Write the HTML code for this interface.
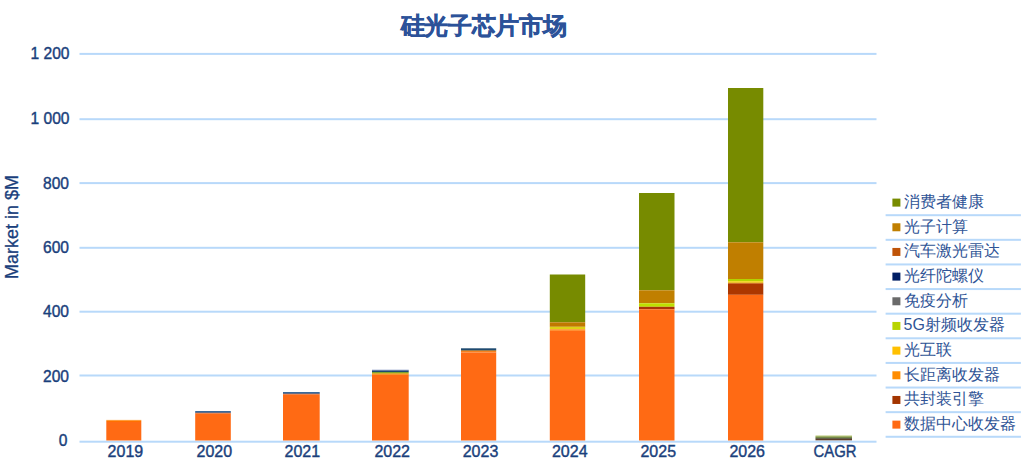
<!DOCTYPE html>
<html><head><meta charset="utf-8"><style>
html,body{margin:0;padding:0;background:#fff;}
body{width:1024px;height:470px;position:relative;overflow:hidden;font-family:"Liberation Sans",sans-serif;}
svg{position:absolute;left:0;top:0;}
.t{position:absolute;white-space:nowrap;line-height:1;}
.yl{font-size:15.6px;color:#1A3F7C;text-align:right;width:60px;-webkit-text-stroke:0.4px #1A3F7C;}
.xl{font-size:16px;color:#1A3F7C;text-align:center;width:60px;-webkit-text-stroke:0.4px #1A3F7C;}
.lg{font-size:16px;color:#2F5496;}
.title{font-size:23.6px;letter-spacing:-0.35px;font-weight:bold;color:#2C5299;-webkit-text-stroke:0.5px #2C5299;}
.ax{font-size:18px;color:#1A3F7C;-webkit-text-stroke:0.3px #1A3F7C;transform-origin:0 0;transform:rotate(-90deg);}
</style></head><body>

<svg width="1024" height="470" viewBox="0 0 1024 470"><rect x="79.5" y="52.90" width="797" height="2" fill="#B8D9FA"/><rect x="79.5" y="118.20" width="797" height="2" fill="#B8D9FA"/><rect x="79.5" y="182.10" width="797" height="2" fill="#B8D9FA"/><rect x="79.5" y="246.80" width="797" height="2" fill="#B8D9FA"/><rect x="79.5" y="310.70" width="797" height="2" fill="#B8D9FA"/><rect x="79.5" y="374.50" width="797" height="2" fill="#B8D9FA"/><rect x="79.5" y="440.70" width="797" height="2" fill="#B8D9FA"/><rect x="106.3" y="419.9" width="35.00" height="1.00" fill="#FF9A30"/><rect x="106.3" y="420.9" width="35.00" height="1.10" fill="#FF7000"/><rect x="106.3" y="422" width="35.00" height="18.50" fill="#FF6A14"/><rect x="195.2" y="411" width="35.60" height="1.30" fill="#3A6A9A"/><rect x="195.2" y="412.3" width="35.60" height="1.00" fill="#3C4060"/><rect x="195.2" y="413.3" width="35.60" height="27.20" fill="#FF6A14"/><rect x="283" y="392" width="36.70" height="1.30" fill="#3A6A9A"/><rect x="283" y="393.3" width="36.70" height="1.00" fill="#3C4060"/><rect x="283" y="394.3" width="36.70" height="46.20" fill="#FF6A14"/><rect x="372" y="369.8" width="36.70" height="0.80" fill="#4F69A8"/><rect x="372" y="370.6" width="36.70" height="1.40" fill="#1F4A70"/><rect x="372" y="372" width="36.70" height="0.90" fill="#6A9A1A"/><rect x="372" y="372.9" width="36.70" height="0.90" fill="#C0A010"/><rect x="372" y="373.8" width="36.70" height="1.00" fill="#FF8C00"/><rect x="372" y="374.8" width="36.70" height="65.70" fill="#FF6A14"/><rect x="461" y="348.3" width="35.20" height="1.70" fill="#1F4A70"/><rect x="461" y="350" width="35.20" height="0.80" fill="#6A5A30"/><rect x="461" y="350.8" width="35.20" height="1.70" fill="#F58220"/><rect x="461" y="352.5" width="35.20" height="88.00" fill="#FF6A14"/><rect x="549.8" y="274.5" width="35.40" height="47.80" fill="#778B00"/><rect x="549.8" y="322.3" width="35.40" height="4.50" fill="#C07800"/><rect x="549.8" y="326.8" width="35.40" height="2.50" fill="#DDD015"/><rect x="549.8" y="329.3" width="35.40" height="1.50" fill="#FF8410"/><rect x="549.8" y="330.8" width="35.40" height="109.70" fill="#FF6A14"/><rect x="639" y="193" width="35.50" height="97.30" fill="#778B00"/><rect x="639" y="290.3" width="35.50" height="13.00" fill="#C07F00"/><rect x="639" y="303.3" width="35.50" height="3.50" fill="#BEE000"/><rect x="639" y="306.8" width="35.50" height="2.50" fill="#AA3508"/><rect x="639" y="309.3" width="35.50" height="131.20" fill="#FF6A14"/><rect x="728" y="88" width="35.30" height="154.30" fill="#778B00"/><rect x="728" y="242.3" width="35.30" height="36.70" fill="#C07F00"/><rect x="728" y="279" width="35.30" height="2.20" fill="#B4D200"/><rect x="728" y="281.2" width="35.30" height="1.60" fill="#F0D00A"/><rect x="728" y="282.8" width="35.30" height="1.00" fill="#D06008"/><rect x="728" y="283.8" width="35.30" height="11.00" fill="#AC3700"/><rect x="728" y="294.8" width="35.30" height="145.70" fill="#FF6A14"/><rect x="815.5" y="435.6" width="36.50" height="1.00" fill="#A8B850"/><rect x="815.5" y="436.6" width="36.50" height="1.20" fill="#64822A"/><rect x="815.5" y="437.8" width="36.50" height="1.00" fill="#414628"/><rect x="815.5" y="438.8" width="36.50" height="1.20" fill="#5E3C28"/><rect x="815.5" y="440" width="36.50" height="0.60" fill="#9A8A88"/><rect x="885.6" y="214.20" width="135.3" height="2" fill="#B8D9FA"/><rect x="885.6" y="238.82" width="135.3" height="2" fill="#B8D9FA"/><rect x="885.6" y="263.44" width="135.3" height="2" fill="#B8D9FA"/><rect x="885.6" y="288.06" width="135.3" height="2" fill="#B8D9FA"/><rect x="885.6" y="312.68" width="135.3" height="2" fill="#B8D9FA"/><rect x="885.6" y="337.30" width="135.3" height="2" fill="#B8D9FA"/><rect x="885.6" y="361.92" width="135.3" height="2" fill="#B8D9FA"/><rect x="885.6" y="386.54" width="135.3" height="2" fill="#B8D9FA"/><rect x="885.6" y="411.16" width="135.3" height="2" fill="#B8D9FA"/><rect x="885.6" y="435.78" width="135.3" height="2" fill="#B8D9FA"/><rect x="892.4" y="198.60" width="8" height="8" fill="#778B00"/><rect x="892.4" y="223.27" width="8" height="8" fill="#C07F00"/><rect x="892.4" y="247.94" width="8" height="8" fill="#BF5408"/><rect x="892.4" y="272.61" width="8" height="8" fill="#001E64"/><rect x="892.4" y="297.28" width="8" height="8" fill="#6A6A6A"/><rect x="892.4" y="321.95" width="8" height="8" fill="#B8D400"/><rect x="892.4" y="346.62" width="8" height="8" fill="#FFC000"/><rect x="892.4" y="371.29" width="8" height="8" fill="#FF8C00"/><rect x="892.4" y="395.96" width="8" height="8" fill="#A33500"/><rect x="892.4" y="420.63" width="8" height="8" fill="#FF6A14"/></svg>
<div class="t title" style="left:400.8px;top:14.6px;">硅光子芯片市场</div>
<div class="t ax" style="left:2.5px;top:279px;">Market in $M</div>
<div class="t yl" style="left:9.5px;top:46.4px;">1 200</div>
<div class="t yl" style="left:9.5px;top:110.7px;">1 000</div>
<div class="t yl" style="left:9px;top:176.4px;">800</div>
<div class="t yl" style="left:9px;top:240.0px;">600</div>
<div class="t yl" style="left:9px;top:304.0px;">400</div>
<div class="t yl" style="left:9px;top:368.5px;">200</div>
<div class="t yl" style="left:7.5px;top:432.6px;">0</div>
<div class="t xl" style="left:95.40px;top:444px;">2019</div>
<div class="t xl" style="left:184.35px;top:444px;">2020</div>
<div class="t xl" style="left:272.30px;top:444px;">2021</div>
<div class="t xl" style="left:362.20px;top:444px;">2022</div>
<div class="t xl" style="left:450.50px;top:444px;">2023</div>
<div class="t xl" style="left:539.75px;top:444px;">2024</div>
<div class="t xl" style="left:628.25px;top:444px;">2025</div>
<div class="t xl" style="left:717.20px;top:444px;">2026</div>
<div class="t xl" style="left:804.50px;top:444px;transform:scaleX(0.93);">CAGR</div>
<div class="t lg" style="left:903.5px;top:194.0px;">消费者健康</div>
<div class="t lg" style="left:903.5px;top:218.7px;">光子计算</div>
<div class="t lg" style="left:903.5px;top:243.3px;">汽车激光雷达</div>
<div class="t lg" style="left:903.5px;top:268.0px;">光纤陀螺仪</div>
<div class="t lg" style="left:903.5px;top:292.7px;">免疫分析</div>
<div class="t lg" style="left:903.5px;top:317.4px;">5G射频收发器</div>
<div class="t lg" style="left:903.5px;top:342.0px;">光互联</div>
<div class="t lg" style="left:903.5px;top:366.7px;">长距离收发器</div>
<div class="t lg" style="left:903.5px;top:391.4px;">共封装引擎</div>
<div class="t lg" style="left:903.5px;top:416.0px;">数据中心收发器</div>
</body></html>
